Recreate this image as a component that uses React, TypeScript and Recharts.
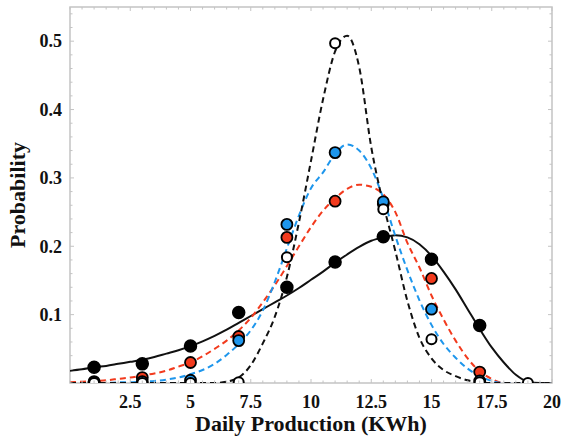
import React from 'react';
import { ComposedChart, Line, Scatter, XAxis, YAxis, ReferenceArea } from 'recharts';

// fitted curves, sampled every 0.5 KWh
const CURVE_X = [
  0, 0.5, 1, 1.5, 2, 2.5, 3, 3.5, 4, 4.5, 5, 5.5, 6, 6.5, 7, 7.5, 8, 8.5, 9, 9.5, 10,
  10.5, 11, 11.5, 12, 12.5, 13, 13.5, 14, 14.5, 15, 15.5, 16, 16.5, 17, 17.5, 18, 18.5, 19, 19.5, 20,
];
const BLACK_FIT = [
  0.018, 0.02, 0.023, 0.025, 0.028, 0.031, 0.034, 0.038, 0.043, 0.048, 0.054, 0.061, 0.069, 0.078, 0.088, 0.098, 0.108, 0.118, 0.128, 0.139, 0.151,
  0.163, 0.176, 0.188, 0.199, 0.208, 0.213, 0.216, 0.213, 0.203, 0.186, 0.163, 0.137, 0.108, 0.079, 0.052, 0.03, 0.012, 0.002, 0, 0,
];
const RED_FIT = [
  0.001, 0.002, 0.003, 0.004, 0.006, 0.008, 0.011, 0.014, 0.018, 0.024, 0.03, 0.039, 0.05, 0.062, 0.077, 0.095, 0.118, 0.143, 0.171, 0.2, 0.228,
  0.252, 0.27, 0.284, 0.29, 0.287, 0.276, 0.25, 0.205, 0.169, 0.128, 0.093, 0.062, 0.036, 0.017, 0.006, 0, 0, 0, 0, 0,
];
const BLUE_FIT = [
  0, 0, 0, 0, 0.001, 0.001, 0.002, 0.003, 0.005, 0.008, 0.013, 0.019, 0.028, 0.041, 0.057, 0.077, 0.106, 0.148, 0.197, 0.245, 0.285,
  0.308, 0.335, 0.349, 0.34, 0.314, 0.27, 0.215, 0.165, 0.121, 0.085, 0.057, 0.037, 0.021, 0.01, 0.003, 0, 0, 0, 0, 0,
];
const WHITE_FIT = [
  0, 0, 0, 0, 0, 0, 0, 0, 0, 0, 0, 0, 0, 0.002, 0.008, 0.026, 0.058, 0.097, 0.155, 0.235, 0.325,
  0.415, 0.485, 0.508, 0.462, 0.345, 0.262, 0.193, 0.12, 0.066, 0.036, 0.019, 0.01, 0.004, 0.001, 0, 0, 0, 0, 0, 0,
];

// measured probabilities
const POINT_X = [1, 3, 5, 7, 9, 11, 13, 15, 17, 19];
const BLACK_PTS = [0.023, 0.028, 0.054, 0.103, 0.14, 0.177, 0.214, 0.181, 0.084];
const RED_PTS = [0.002, 0.008, 0.03, 0.068, 0.213, 0.266, 0.262, 0.153, 0.016];
const BLUE_PTS = [0, 0.002, 0.004, 0.062, 0.232, 0.337, 0.265, 0.108, 0.003];
const WHITE_PTS = [0, 0, 0, 0.001, 0.184, 0.497, 0.254, 0.064, 0.001, 0];

const X_LABELS = [2.5, 5, 7.5, 10, 12.5, 15, 17.5, 20];
const Y_LABELS = [0.1, 0.2, 0.3, 0.4, 0.5];
const X_TICKS = Array.from({ length: 41 }, (_, i) => i * 0.5);
const Y_TICKS = Array.from({ length: 28 }, (_, i) => Math.round(i * 2) / 100);

const PLOT = { left: 70, right: 552, top: 7, bottom: 383 };
const FRAME = '#c4c4c4';
const FONT = "'Liberation Serif', 'DejaVu Serif', serif";
const INK = '#111';

const curveData = CURVE_X.map((x, i) => ({
  x,
  black: BLACK_FIT[i],
  red: RED_FIT[i],
  blue: BLUE_FIT[i],
  white: WHITE_FIT[i],
}));
const toPts = (vals: number[]) => vals.map((y, i) => ({ x: POINT_X[i], y }));

const isLabel = (list: number[], v: number) => list.some((l) => Math.abs(l - v) < 1e-6);

const XTick = (props: any) => {
  const { x, payload } = props;
  const major = isLabel(X_LABELS, payload.value);
  const len = major ? 4 : 2.5;
  return (
    <g>
      <line x1={x} x2={x} y1={PLOT.bottom} y2={PLOT.bottom - len} stroke={FRAME} />
      <line x1={x} x2={x} y1={PLOT.top} y2={PLOT.top + len} stroke={FRAME} />
      {major && (
        <text x={x} y={408} textAnchor="middle" fontFamily={FONT} fontWeight="bold" fontSize={18} fill={INK}>
          {payload.value}
        </text>
      )}
    </g>
  );
};

const YTick = (props: any) => {
  const { y, payload } = props;
  const major = isLabel(Y_LABELS, payload.value);
  const len = major ? 4 : 2.5;
  return (
    <g>
      <line x1={PLOT.left} x2={PLOT.left + len} y1={y} y2={y} stroke={FRAME} />
      <line x1={PLOT.right} x2={PLOT.right - len} y1={y} y2={y} stroke={FRAME} />
      {major && (
        <text x={PLOT.left - 8} y={y} dy="0.35em" textAnchor="end" fontFamily={FONT} fontWeight="bold" fontSize={18} fill={INK}>
          {payload.value}
        </text>
      )}
    </g>
  );
};

const dot = (fill: string, r: number, sw: number) => (p: any) => (
  <circle cx={p.cx} cy={p.cy} r={r} fill={fill} stroke="#000" strokeWidth={sw} />
);

export default function App() {
  return (
    <div style={{ position: 'absolute', left: 0, top: 0, background: '#fff' }}>
      <ComposedChart width={563} height={436} data={curveData} margin={{ top: 7, right: 11, left: 0, bottom: 0 }}>
        <XAxis
          dataKey="x"
          type="number"
          domain={[0, 20]}
          ticks={X_TICKS}
          interval={0}
          height={53}
          axisLine={false}
          tickLine={false}
          tick={<XTick />}
          label={{
            content: (p: any) => (
              <text
                x={p.viewBox.x + p.viewBox.width / 2}
                y={431}
                textAnchor="middle"
                fontFamily={FONT}
                fontWeight="bold"
                fontSize={22}
                fill={INK}
              >
                Daily Production (KWh)
              </text>
            ),
          }}
        />
        <YAxis
          type="number"
          domain={[0, 0.55]}
          ticks={Y_TICKS}
          interval={0}
          width={70}
          allowDataOverflow
          axisLine={false}
          tickLine={false}
          tick={<YTick />}
          label={{
            content: () => (
              <text
                x={25}
                y={(PLOT.top + PLOT.bottom) / 2}
                transform={`rotate(-90, 25, ${(PLOT.top + PLOT.bottom) / 2})`}
                textAnchor="middle"
                fontFamily={FONT}
                fontWeight="bold"
                fontSize={22}
                fill={INK}
              >
                Probability
              </text>
            ),
          }}
        />
        <ReferenceArea x1={0} x2={20} y1={0} y2={0.55} fill="none" stroke={FRAME} strokeWidth={1.5} />
        <Line type="monotone" dataKey="black" stroke="#111" strokeWidth={2} dot={false} activeDot={false} isAnimationActive={false} />
        <Line type="monotone" dataKey="red" stroke="#f23a1d" strokeWidth={2} strokeDasharray="6 4" dot={false} activeDot={false} isAnimationActive={false} />
        <Line type="monotone" dataKey="blue" stroke="#1e96ec" strokeWidth={2} strokeDasharray="6 4" dot={false} activeDot={false} isAnimationActive={false} />
        <Line type="monotone" dataKey="white" stroke="#111" strokeWidth={2} strokeDasharray="6 4" dot={false} activeDot={false} isAnimationActive={false} />
        <Scatter data={toPts(BLACK_PTS)} dataKey="y" shape={dot('#000', 6, 1.5)} isAnimationActive={false} />
        <Scatter data={toPts(RED_PTS)} dataKey="y" shape={dot('#f23a1d', 5.5, 1.8)} isAnimationActive={false} />
        <Scatter data={toPts(BLUE_PTS)} dataKey="y" shape={dot('#1e96ec', 5.5, 1.8)} isAnimationActive={false} />
        <Scatter data={toPts(WHITE_PTS)} dataKey="y" shape={dot('#fff', 5, 2)} isAnimationActive={false} />
      </ComposedChart>
    </div>
  );
}
